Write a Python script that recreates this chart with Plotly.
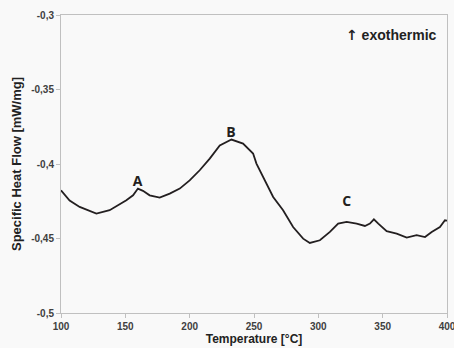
import plotly.graph_objects as go

temperature = [100, 106.7, 114.5, 127.5, 137.8, 150.8, 156, 159.8, 163.7, 168.9, 176.7, 184.5,
               192.3, 200, 207.8, 215.6, 223.4, 232.5, 241.5, 249.3, 251.9, 257.1, 264.9, 272.6,
               280.4, 288.2, 293.4, 301.2, 309, 315.4, 322, 329.8, 336.2, 340.1, 343.2, 346.6,
               353.1, 360.9, 368.7, 376.4, 382.9, 388.1, 394.5, 398.4, 400]
heat_flow = [-0.4177, -0.4245, -0.4288, -0.4333, -0.431, -0.4243, -0.421, -0.4165, -0.418, -0.421,
             -0.4226, -0.4199, -0.4165, -0.411, -0.4042, -0.3964, -0.3875, -0.3836, -0.3863, -0.393,
             -0.3997, -0.4087, -0.4221, -0.431, -0.4423, -0.4501, -0.453, -0.4512, -0.4456, -0.44,
             -0.4389, -0.44, -0.4416, -0.44, -0.4371, -0.44, -0.4451, -0.4467, -0.4494, -0.4478,
             -0.449, -0.4456, -0.4423, -0.4378, -0.438]

peak_labels = ["A", "B", "C"]
peak_x = [159.5, 232, 322]
peak_y = [-0.4126, -0.3797, -0.4256]

x_ticks = [100, 150, 200, 250, 300, 350, 400]
y_ticks = [-0.5, -0.45, -0.4, -0.35, -0.3]
y_tick_text = ["-0,5", "-0,45", "-0,4", "-0,35", "-0,3"]

fig = go.Figure()
fig.add_trace(go.Scatter(x=temperature, y=heat_flow, mode="lines",
                         line=dict(color="#231f20", width=1.8), showlegend=False))
fig.add_trace(go.Scatter(x=peak_x, y=peak_y, mode="text", text=peak_labels,
                         textfont=dict(family="Open Sans", size=14, color="#231f20", weight="bold"),
                         showlegend=False))

fig.add_annotation(x=1, y=1, xref="paper", yref="paper", xanchor="right", yanchor="top",
                   xshift=-8, yshift=-10, showarrow=False,
                   text='<span style="font-family:DejaVu Sans">↑</span> exothermic',
                   font=dict(family="Liberation Sans", size=14, color="#222", weight="bold"))

axis_common = dict(showline=True, linecolor="#c0c0c0", linewidth=1, mirror=True,
                   showgrid=False, zeroline=False, ticks="outside", ticklen=4,
                   tickcolor="#c0c0c0", automargin=False,
                   tickfont=dict(family="Liberation Sans", size=10, color="#404040", weight="bold"),
                   title_font=dict(family="Liberation Sans", size=12, color="#222", weight="bold"))

fig.update_xaxes(range=[100, 400], tickvals=x_ticks, title_text="Temperature [°C]",
                 title_standoff=2, ticklabeloverflow="allow", **axis_common)
fig.update_yaxes(range=[-0.5, -0.3], tickvals=y_ticks, ticktext=y_tick_text,
                 title_text="Specific Heat Flow [mW/mg]", title_standoff=6, **axis_common)
fig.update_yaxes(title_font_size=13)

fig.update_layout(width=454, height=348, margin=dict(l=61, r=7, t=15, b=35),
                  paper_bgcolor="#f9f9f9", plot_bgcolor="#f9f9f9")

fig.write_html("out.html")
